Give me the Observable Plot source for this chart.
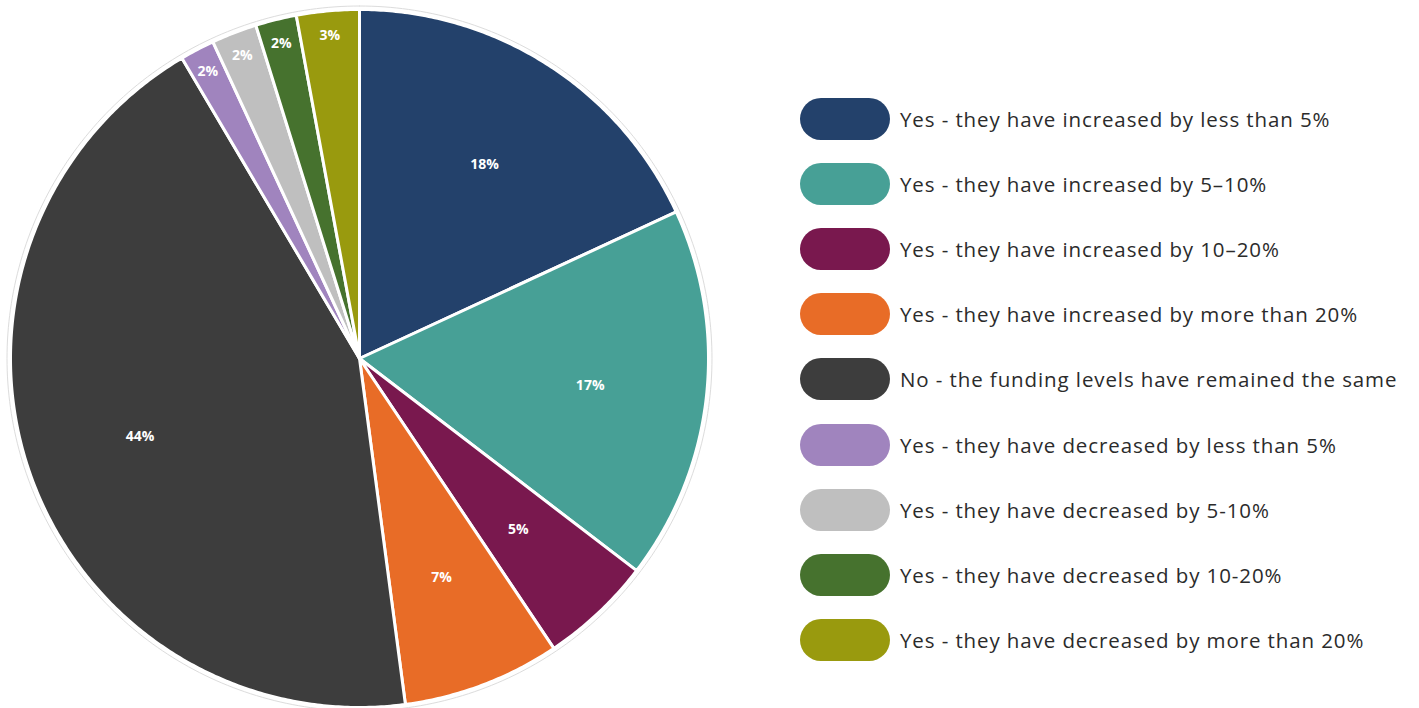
<!DOCTYPE html>
<html>
<head>
<meta charset="utf-8">
<script src="https://cdn.jsdelivr.net/npm/d3@7"></script>
<script src="https://cdn.jsdelivr.net/npm/@observablehq/plot@0.6"></script>
<style>
  html, body { margin: 0; padding: 0; background: #fff; }
  #wrap { position: relative; width: 1419px; height: 708px; overflow: hidden; }
  #pie { position: absolute; left: 0; top: 0; }
  #legend { position: absolute; left: 800px; top: 0; font-family: "Open Sans", sans-serif; color: #2b2b2b; }
  .row { position: absolute; left: 0; display: flex; align-items: center; white-space: nowrap; }
  .pill { width: 90px; height: 42px; border-radius: 21px; flex: none; }
  .lab { margin-left: 10px; font-size: 20.5px; font-weight: 400; letter-spacing: 0.9px; }
</style>
</head>
<body>
<div id="wrap"><div id="pie"></div><div id="legend"></div></div>
<script>
const categories = [
  "Yes - they have increased by less than 5%",
  "Yes - they have increased by 5–10%",
  "Yes - they have increased by 10–20%",
  "Yes - they have increased by more than 20%",
  "No - the funding levels have remained the same",
  "Yes - they have decreased by less than 5%",
  "Yes - they have decreased by 5-10%",
  "Yes - they have decreased by 10-20%",
  "Yes - they have decreased by more than 20%"
];
const values = [18.1, 17.3, 5.2, 7.3, 43.6, 1.6, 2.1, 1.9, 2.9];
const labels = ["18%", "17%", "5%", "7%", "44%", "2%", "2%", "2%", "3%"];
const colors = ["#23416b", "#47a096", "#79184e", "#e86c27", "#3d3d3d", "#a084be", "#bfbfbf", "#46722e", "#999a0e"];

const total = d3.sum(values);
const slices = [];
const labelPts = [];
let acc = 0;
values.forEach((v, i) => {
  const a0 = acc / total * 2 * Math.PI;
  acc += v;
  const a1 = acc / total * 2 * Math.PI;
  slices.push({cat: categories[i], x: 0, y: 0});
  const n = Math.max(2, Math.ceil((a1 - a0) / (Math.PI / 360)));
  for (let k = 0; k <= n; k++) {
    const a = a0 + (a1 - a0) * k / n;
    slices.push({cat: categories[i], x: Math.sin(a), y: Math.cos(a)});
  }
  slices.push({cat: categories[i], x: 0, y: 0});
  const am = (a0 + a1) / 2;
  const r = v < 4 ? 0.935 : 0.665;
  labelPts.push({x: r * Math.sin(am), y: r * Math.cos(am), text: labels[i]});
});
const ring = d3.range(0, 361, 1).map(d => ({x: 1.01 * Math.sin(d * Math.PI / 180), y: 1.01 * Math.cos(d * Math.PI / 180)}));

const R = 349, cx = 359, cy = 358, W = 720, H = 708;
const chart = Plot.plot({
  width: W, height: H, margin: 0,
  x: {domain: [-cx / R, (W - cx) / R], axis: null},
  y: {domain: [-(H - cy) / R, cy / R], axis: null},
  color: {domain: categories, range: colors},
  style: {background: "transparent"},
  marks: [
    Plot.line(ring, {x: "x", y: "y", stroke: "#dcdcdc", strokeWidth: 1}),
    Plot.line(slices, {x: "x", y: "y", z: "cat", fill: "cat", stroke: "white", strokeWidth: 3, strokeLinejoin: "round"}),
    Plot.text(labelPts, {x: "x", y: "y", dy: 2, text: "text", fill: "white", fontWeight: "bold", fontSize: 14, fontFamily: "Open Sans, sans-serif"})
  ]
});
document.getElementById("pie").appendChild(chart);

const legend = document.getElementById("legend");
categories.forEach((c, i) => {
  const row = document.createElement("div");
  row.className = "row";
  row.style.top = (119 + i * 65.1 - 21) + "px";
  const pill = document.createElement("div");
  pill.className = "pill";
  pill.style.background = colors[i];
  const lab = document.createElement("span");
  lab.className = "lab";
  lab.textContent = c;
  row.appendChild(pill);
  row.appendChild(lab);
  legend.appendChild(row);
});
</script>
</body>
</html>
